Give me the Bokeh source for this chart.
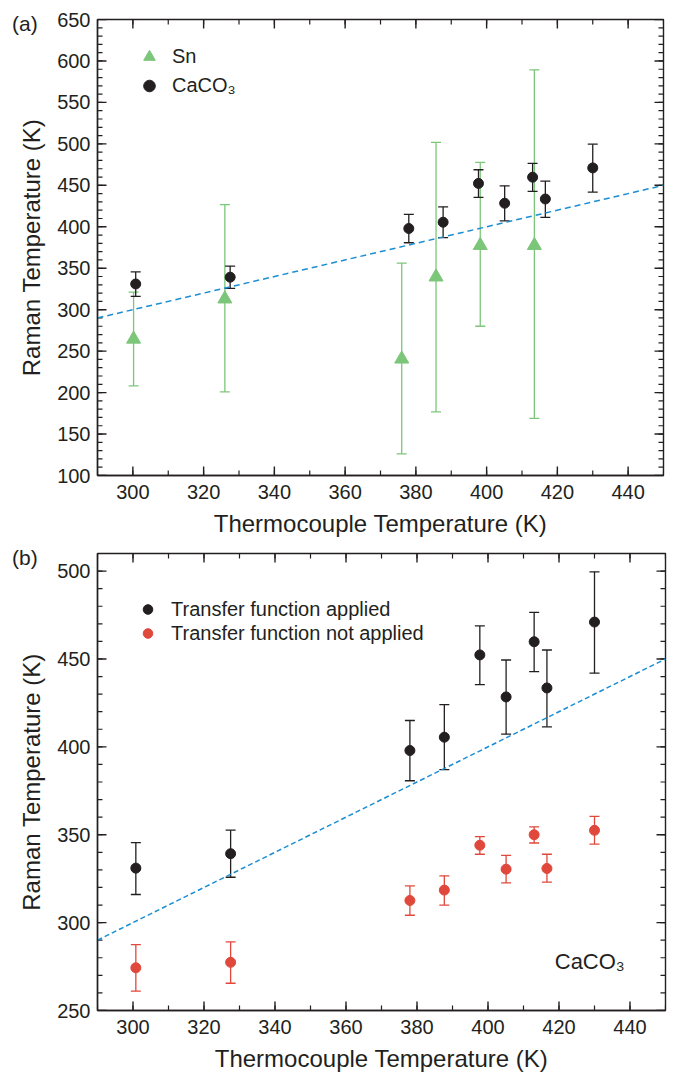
import math
from bokeh.plotting import figure
from bokeh.models import (Range1d, LinearAxis, SingleIntervalTicker, Whisker, TeeHead,
                          ColumnDataSource, Legend, LegendItem, Label, Div)
from bokeh.layouts import column
from bokeh.embed import file_html
from bokeh.resources import INLINE

# ---------------- data ----------------
# CaCO3 (transfer function applied) -- same in panels (a) and (b)
caco3_x = [300.8, 327.5, 378.0, 387.7, 397.7, 405.1, 413.0, 416.6, 430.0]
caco3_y = [331.0, 339.2, 397.9, 405.5, 452.3, 428.4, 459.8, 433.5, 471.0]
caco3_lo = [316.0, 325.8, 380.7, 387.0, 435.4, 407.2, 442.8, 411.4, 441.9]
caco3_hi = [345.5, 352.6, 415.0, 424.0, 468.8, 449.4, 476.5, 455.1, 499.6]

# CaCO3 (transfer function not applied)
raw_y = [274.3, 277.4, 312.6, 318.5, 344.0, 330.4, 350.0, 330.8, 352.5]
raw_lo = [261.0, 265.5, 304.2, 310.0, 338.9, 322.6, 345.3, 323.0, 344.7]
raw_hi = [287.5, 289.0, 320.9, 326.6, 348.9, 338.3, 354.5, 338.9, 360.4]

# Sn
sn_x = [300.2, 326.0, 376.0, 385.7, 398.2, 413.5]
sn_y = [264.5, 313.0, 240.5, 339.5, 377.5, 377.5]
sn_lo = [208.0, 200.8, 126.0, 176.8, 280.0, 169.0]
sn_hi = [321.2, 426.8, 356.2, 501.7, 477.6, 589.3]

# identity reference line (Raman = thermocouple)
ref_t = [290, 450]

# tick values
x_major = list(range(300, 441, 20))
x_minor = list(range(290, 451, 10))
ya_major = list(range(100, 651, 50))
ya_minor = list(range(100, 651, 10))
yb_major = list(range(250, 501, 50))
yb_minor = list(range(250, 511, 10))

x_title = "Thermocouple Temperature (K)"
y_title = "Raman Temperature (K)"

FONT = "Liberation Sans"
INK = "#231f20"
GREEN = "#7cc67a"
RED = "#e0483c"
BLUE = "#1b8ed3"


def add_axes(p, yint):
    xt = SingleIntervalTicker(interval=20, num_minor_ticks=2)
    yt = SingleIntervalTicker(interval=yint, num_minor_ticks=5)
    common = dict(axis_line_color=INK, axis_line_width=1.4,
                  major_tick_line_color=None, minor_tick_line_color=None,
                  major_tick_in=0, major_tick_out=0, minor_tick_in=0, minor_tick_out=0)
    lab = dict(major_label_text_font=FONT, major_label_text_font_size="20px",
               major_label_text_color=INK,
               axis_label_text_font=FONT, axis_label_text_font_size="24px",
               axis_label_text_font_style="normal", axis_label_text_color=INK)
    bx = LinearAxis(ticker=xt, axis_label=x_title, major_label_standoff=9,
                    axis_label_standoff=8, **common, **lab)
    ly = LinearAxis(ticker=yt, axis_label=y_title, major_label_standoff=7,
                    axis_label_standoff=9, **common, **lab)
    p.add_layout(bx, "below")
    p.add_layout(ly, "left")


def inward_ticks(p, xmaj, xmin_, ymaj, ymin_):
    x0, x1 = p.x_range.start, p.x_range.end
    y0, y1 = p.y_range.start, p.y_range.end
    for vals, ln, lw in ((xmaj, 9, 1.4), (xmin_, 5, 1.2)):
        p.ray(x=vals, y=[y0] * len(vals), length=ln, angle=math.pi / 2,
              length_units="screen", line_color=INK, line_width=lw)
        p.ray(x=vals, y=[y1] * len(vals), length=ln, angle=-math.pi / 2,
              length_units="screen", line_color=INK, line_width=lw)
    for vals, ln, lw in ((ymaj, 9, 1.4), (ymin_, 5, 1.2)):
        p.ray(x=[x0] * len(vals), y=vals, length=ln, angle=0,
              length_units="screen", line_color=INK, line_width=lw)
        p.ray(x=[x1] * len(vals), y=vals, length=ln, angle=math.pi,
              length_units="screen", line_color=INK, line_width=lw)


def errbars(p, src, color):
    w = Whisker(base="x", upper="hi", lower="lo", source=src,
                line_color=color, line_width=1.3,
                upper_head=TeeHead(size=10, line_color=color, line_width=1.3),
                lower_head=TeeHead(size=10, line_color=color, line_width=1.3))
    p.add_layout(w)


def panel_tag(text, top):
    return Div(text=text, width=40, height=28, margin=(top, 0, -28 - top, 12),
               styles={"font-family": FONT, "font-size": "21px", "color": INK,
                       "line-height": "24px"})


# ---------------- panel (a) ----------------
pa = figure(width=665, height=546, x_range=Range1d(290, 450), y_range=Range1d(100, 650),
            x_axis_type=None, y_axis_type=None, output_backend="svg", toolbar_location=None,
            min_border_left=95, min_border_right=2, min_border_top=19, min_border_bottom=71,
            outline_line_color=INK, outline_line_width=1.4, border_fill_color=None)
pa.grid.visible = False
add_axes(pa, 50)
inward_ticks(pa, x_major, x_minor, ya_major, ya_minor)

pa.line(ref_t, ref_t, line_color=BLUE, line_width=1.5, line_dash="6 4")

sn_src = ColumnDataSource(dict(x=sn_x, y=sn_y, lo=sn_lo, hi=sn_hi))
ca_src = ColumnDataSource(dict(x=caco3_x, y=caco3_y, lo=caco3_lo, hi=caco3_hi))
errbars(pa, sn_src, GREEN)
errbars(pa, ca_src, INK)
r_sn = pa.scatter("x", "y", source=sn_src, marker="triangle", size=14,
                  fill_color=GREEN, line_color=GREEN)
r_ca = pa.scatter("x", "y", source=ca_src, marker="circle", size=10,
                  fill_color=INK, line_color=INK)

leg_a = Legend(items=[LegendItem(label="Sn", renderers=[r_sn]),
                      LegendItem(label="CaCO\u2083", renderers=[r_ca])],
               location=(37, 375), background_fill_alpha=0, border_line_color=None,
               label_text_font=FONT, label_text_font_size="20px", label_text_color=INK,
               glyph_width=30, glyph_height=29, label_height=29, label_standoff=8,
               spacing=0, padding=10, margin=0)
pa.add_layout(leg_a)

# ---------------- panel (b) ----------------
pb = figure(width=667, height=533, x_range=Range1d(290, 450), y_range=Range1d(250, 510),
            x_axis_type=None, y_axis_type=None, output_backend="svg", toolbar_location=None,
            min_border_left=97, min_border_right=2, min_border_top=7, min_border_bottom=69,
            outline_line_color=INK, outline_line_width=1.4, border_fill_color=None)
pb.grid.visible = False
add_axes(pb, 50)
inward_ticks(pb, x_major, x_minor, yb_major, yb_minor)

pb.line(ref_t, ref_t, line_color=BLUE, line_width=1.5, line_dash="5 3")

app_src = ColumnDataSource(dict(x=caco3_x, y=caco3_y, lo=caco3_lo, hi=caco3_hi))
raw_src = ColumnDataSource(dict(x=caco3_x, y=raw_y, lo=raw_lo, hi=raw_hi))
errbars(pb, app_src, INK)
errbars(pb, raw_src, RED)
r_app = pb.scatter("x", "y", source=app_src, marker="circle", size=10,
                   fill_color=INK, line_color=INK)
r_raw = pb.scatter("x", "y", source=raw_src, marker="circle", size=10,
                   fill_color=RED, line_color=RED)

leg_b = Legend(items=[LegendItem(label="Transfer function applied", renderers=[r_app]),
                      LegendItem(label="Transfer function not applied", renderers=[r_raw])],
               location=(38, 365), background_fill_alpha=0, border_line_color=None,
               label_text_font=FONT, label_text_font_size="20px", label_text_color=INK,
               glyph_width=25, glyph_height=24, label_height=24, label_standoff=11,
               spacing=0, padding=10, margin=0)
pb.add_layout(leg_b)
pb.add_layout(Label(x=418.8, y=278, text="CaCO\u2083", text_font=FONT,
                    text_font_size="22px", text_color=INK, text_baseline="alphabetic"))

layout = column(panel_tag("(a)", 12), pa, panel_tag("(b)", 0), pb, spacing=0)
open("out.html", "w").write(file_html(layout, INLINE))
